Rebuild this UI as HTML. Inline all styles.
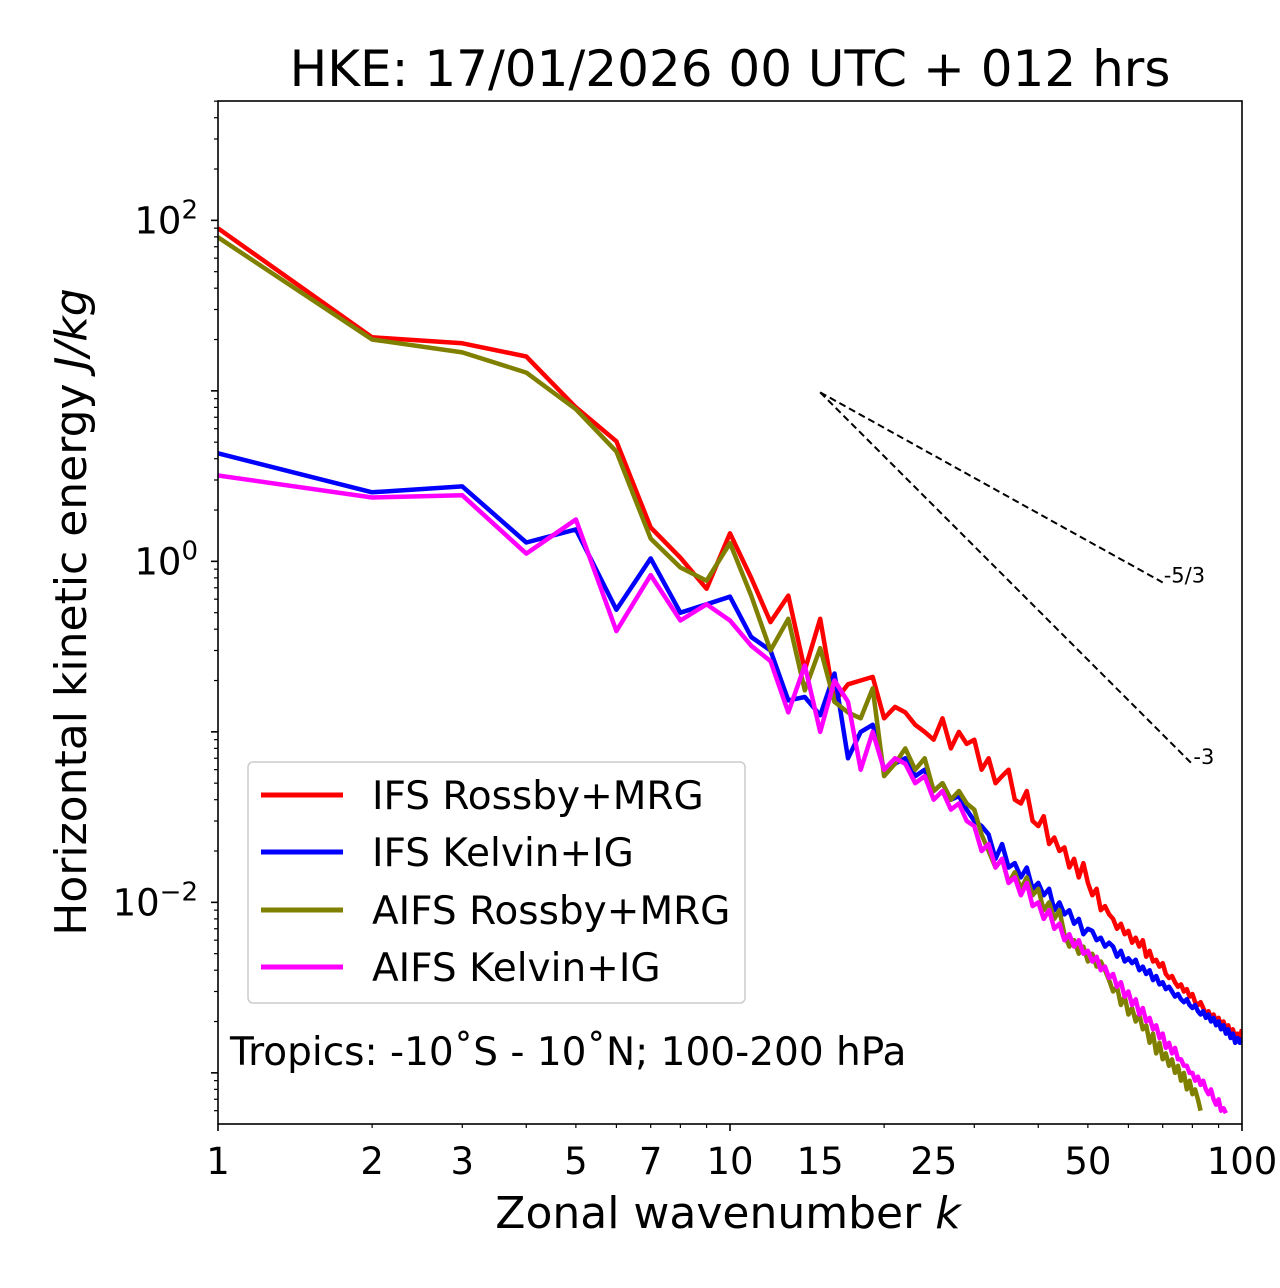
<!DOCTYPE html>
<html><head><meta charset="utf-8"><style>
body{margin:0;background:#fff}
svg{display:block;font-family:"DejaVu Sans","Liberation Sans",sans-serif}
</style></head><body>
<svg id="c" width="1280" height="1288" viewBox="0 0 1280 1288">
<rect width="1280" height="1288" fill="#fff"/>
<text x="730" y="86" font-size="50" text-anchor="middle">HKE: 17/01/2026 00 UTC + 012 hrs</text>
<defs><clipPath id="pc"><rect x="218" y="101" width="1024" height="1023"/></clipPath></defs>
<g id="series" clip-path="url(#pc)"></g>
<g id="axes"></g>
<rect x="218" y="101" width="1024" height="1023" fill="none" stroke="#000" stroke-width="1.6"/>
<text x="728" y="1228" font-size="44" text-anchor="middle">Zonal wavenumber <tspan font-style="italic">k</tspan></text>
<text transform="translate(86,612) rotate(-90)" font-size="44" text-anchor="middle">Horizontal kinetic energy <tspan font-style="italic">J/kg</tspan></text>
<g>
<rect x="248" y="762" width="497" height="241" rx="5" fill="#fff" fill-opacity="0.8" stroke="#ccc" stroke-width="1.5"/>
<line x1="261" x2="343" y1="795" y2="795" stroke="#ff0000" stroke-width="5"/>
<text x="372" y="809" font-size="39">IFS Rossby+MRG</text>
<line x1="261" x2="343" y1="852" y2="852" stroke="#0000ff" stroke-width="5"/>
<text x="372" y="866" font-size="39">IFS Kelvin+IG</text>
<line x1="261" x2="343" y1="910" y2="910" stroke="#808000" stroke-width="5"/>
<text x="372" y="924" font-size="39">AIFS Rossby+MRG</text>
<line x1="261" x2="343" y1="967" y2="967" stroke="#ff00ff" stroke-width="5"/>
<text x="372" y="981" font-size="39">AIFS Kelvin+IG</text>
</g>
<text x="230" y="1065" font-size="39">Tropics: -10˚S - 10˚N; 100-200 hPa</text>
</svg>
<script>
const ifsRossby=[89.8,20.6,19,15.9,8.0,5.06,1.58,1.05,0.69,1.46,0.8,0.44,0.63,0.23,0.46,
0.15,0.19,0.2,0.21,0.12,0.14,0.13,0.11,0.1,0.09,0.12,0.08,0.1,0.085,0.09,0.06,0.07,0.05,0.055,0.06,0.04,0.038,0.045,0.03,0.028,0.032,0.022,0.024,0.02,0.021,0.016,0.018,0.014,0.017,0.013,0.011,0.012,0.009,0.0095,0.0085,0.008,0.007,0.0075,0.0065,0.0068,0.0058,0.0062,0.0055,0.006,0.0048,0.0052,0.0045,0.0046,0.0042,0.0044,0.0038,0.0036,0.0037,0.0034,0.0032,0.0033,0.003,0.0031,0.0028,0.0029,0.0026,0.0025,0.0026,0.0024,0.0022,0.0023,0.0021,0.0022,0.002,0.0021,0.0019,0.002,0.0018,0.0019,0.0017,0.0018,0.0016,0.0017,0.0016,0.0018];
const ifsKelvin=[4.3,2.54,2.75,1.29,1.54,0.52,1.04,0.5,0.56,0.62,0.36,0.3,0.153,0.16,0.125,
0.22,0.07,0.1,0.11,0.06,0.065,0.07,0.055,0.06,0.045,0.05,0.04,0.042,0.035,0.03,0.028,0.025,0.018,0.022,0.016,0.017,0.014,0.016,0.012,0.013,0.011,0.012,0.009,0.01,0.0085,0.009,0.0075,0.008,0.0065,0.007,0.0068,0.006,0.0062,0.0055,0.0058,0.0055,0.0048,0.0052,0.0045,0.0047,0.0044,0.0046,0.004,0.0042,0.0038,0.004,0.0035,0.0037,0.0033,0.0034,0.0031,0.0032,0.003,0.0028,0.0029,0.0027,0.0026,0.0027,0.0025,0.0024,0.0025,0.0023,0.0022,0.0023,0.0021,0.0022,0.002,0.0021,0.0019,0.002,0.0018,0.0019,0.0017,0.0018,0.0016,0.0017,0.0015,0.0016,0.0015,0.0016];
const aifsRossby=[79.5,20,16.8,12.8,7.8,4.4,1.36,0.92,0.77,1.28,0.63,0.3,0.46,0.175,0.31,
0.15,0.13,0.12,0.18,0.055,0.065,0.08,0.06,0.07,0.045,0.05,0.04,0.045,0.038,0.035,0.025,0.02,0.016,0.018,0.013,0.015,0.012,0.014,0.011,0.012,0.009,0.01,0.008,0.009,0.0065,0.0055,0.006,0.005,0.0055,0.0045,0.005,0.0042,0.0045,0.004,0.0035,0.003,0.0032,0.0025,0.0028,0.0022,0.0024,0.002,0.0022,0.0018,0.0019,0.0015,0.0017,0.0013,0.0015,0.0012,0.0013,0.0011,0.0012,0.001,0.0011,0.0009,0.001,0.0008,0.0009,0.00075,0.0008,0.0007,0.0006];
const aifsKelvin=[3.19,2.37,2.44,1.11,1.76,0.39,0.83,0.45,0.56,0.45,0.32,0.26,0.13,0.245,0.1,
0.2,0.15,0.06,0.1,0.06,0.07,0.065,0.05,0.055,0.04,0.045,0.035,0.038,0.03,0.028,0.02,0.022,0.016,0.018,0.013,0.014,0.011,0.013,0.0095,0.01,0.008,0.009,0.007,0.0075,0.006,0.0065,0.0055,0.006,0.005,0.0052,0.0045,0.0048,0.004,0.0042,0.0036,0.0038,0.0032,0.0034,0.0028,0.003,0.0025,0.0027,0.0022,0.0024,0.002,0.0021,0.0018,0.0019,0.0016,0.0017,0.0014,0.0015,0.0013,0.0014,0.0012,0.0012,0.0011,0.0011,0.001,0.001,0.0009,0.00095,0.00085,0.0009,0.0008,0.00075,0.0008,0.0007,0.00065,0.0007,0.0006,0.00062,0.00058];
const xTickLabels=[1,2,3,5,7,10,15,25,50,100];
const yLabelDecades=[-2,0,2];
const refStartK=15, refStartVal=9.8;
const refSlopes=[-5/3,-3], refEndK=[70,80], refLabels=["-5/3","-3"];

const X0=218,X1=1242,Y0=101,Y1=1124,LMIN=-3.3,LMAX=2.7;
const xs=k=>X0+(X1-X0)*Math.log10(k)/2;
const ys=v=>Y1-(Y1-Y0)*(Math.log10(v)-LMIN)/(LMAX-LMIN);
const NS="http://www.w3.org/2000/svg";
function mk(t,a,p){const e=document.createElementNS(NS,t);for(const k in a)e.setAttribute(k,a[k]);p.appendChild(e);return e;}
const sg=document.getElementById('series'), ag=document.getElementById('axes');
const defs=[[ifsRossby,'#ff0000','series-ifs-rossby'],[ifsKelvin,'#0000ff','series-ifs-kelvin'],[aifsRossby,'#808000','series-aifs-rossby'],[aifsKelvin,'#ff00ff','series-aifs-kelvin']];
defs.forEach(([d,c,n])=>{
 const pts=d.map((v,i)=>xs(i+1).toFixed(1)+','+ys(v).toFixed(1)).join(' ');
 const pl=mk('polyline',{points:pts,fill:'none',stroke:c,'stroke-width':4.5,'stroke-linejoin':'round'},sg);
 
 
});
refSlopes.forEach((s,i)=>{
 const ev=refStartVal*Math.pow(refEndK[i]/refStartK,s);
 const l=mk('line',{x1:xs(refStartK),y1:ys(refStartVal),x2:xs(refEndK[i]),y2:ys(ev),stroke:'#000','stroke-width':2,'stroke-dasharray':'7,4'},sg);
 
 
 const t=mk('text',{x:xs(refEndK[i])+1,y:ys(ev),'font-size':21},ag);
 t.textContent=refLabels[i];
 
 
});
for(let d=0;d<2;d++)for(let m=1;m<10;m++){const k=m*Math.pow(10,d);const x=xs(k);
 const mj=(m===1);mk('line',{x1:x,x2:x,y1:Y1,y2:Y1+(mj?7:4),stroke:'#000','stroke-width':mj?1.6:1.2},ag);}
mk('line',{x1:X1,x2:X1,y1:Y1,y2:Y1+7,stroke:'#000','stroke-width':1.6},ag);
xTickLabels.forEach(k=>{const t=mk('text',{x:xs(k),y:1174,'font-size':37,'text-anchor':'middle'},ag);t.textContent=k;
 
 });
for(let d=-4;d<=2;d++)for(let m=1;m<10;m++){const v=m*Math.pow(10,d);const y=ys(v);if(y<Y0||y>Y1)continue;
 const mj=(m===1);mk('line',{x1:X0,x2:X0-(mj?7:4),y1:y,y2:y,stroke:'#000','stroke-width':mj?1.6:1.2},ag);}
yLabelDecades.forEach(d=>{const t=mk('text',{x:198,y:ys(Math.pow(10,d))+13,'font-size':37,'text-anchor':'end'},ag);
 t.innerHTML='10<tspan dy="-15" font-size="26">'+(d<0?'\u2212'+(-d):d)+'</tspan>';
 
 });
</script>
</body></html>
